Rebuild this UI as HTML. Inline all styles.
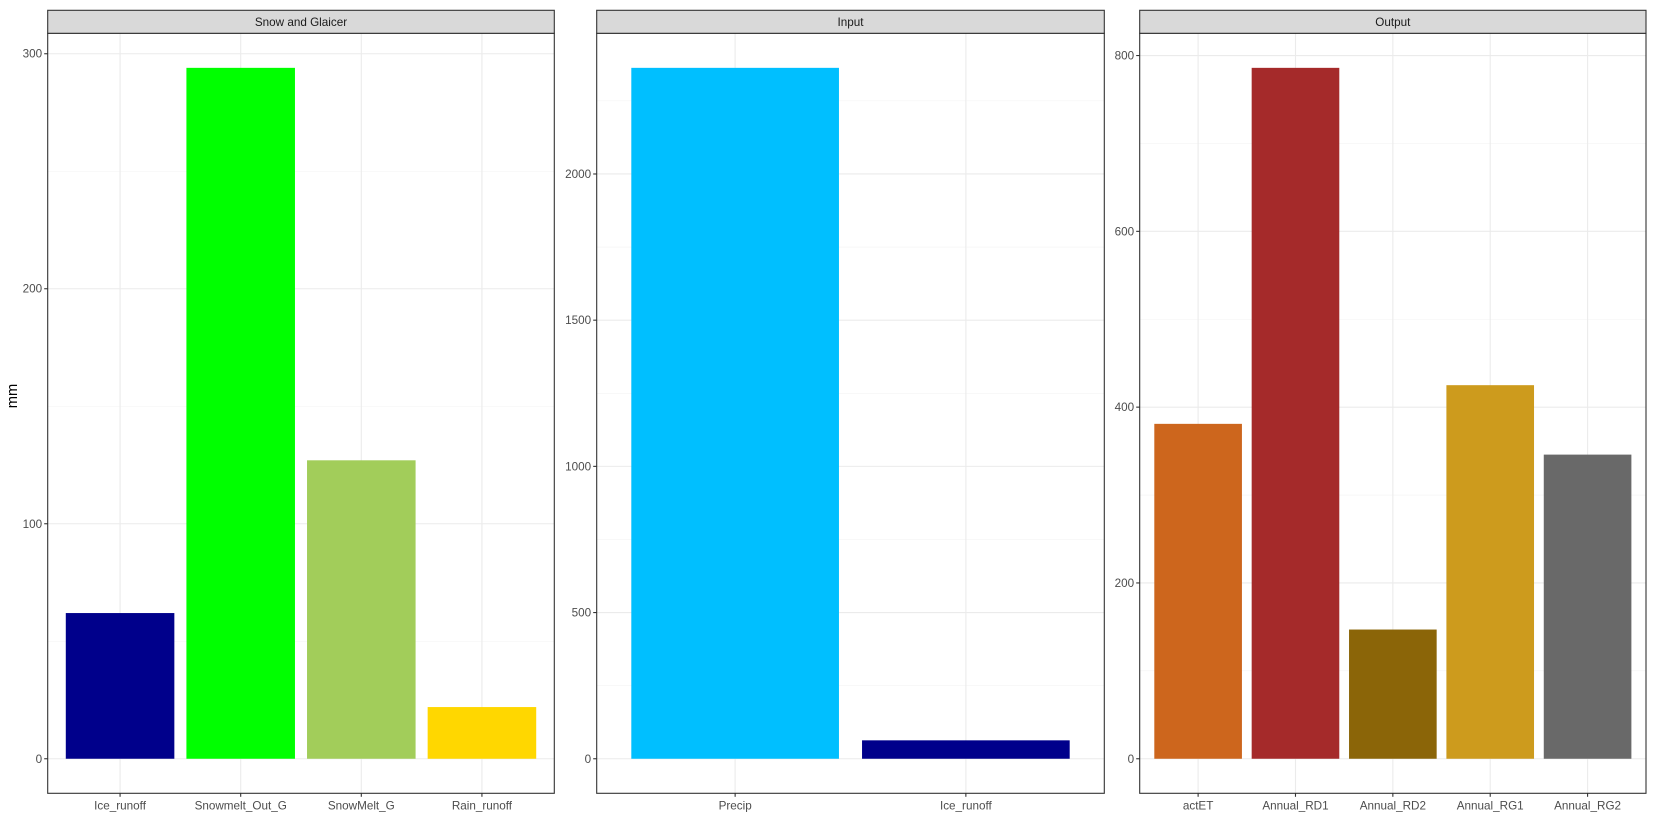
<!DOCTYPE html>
<html><head><meta charset="utf-8">
<style>
html,body{margin:0;padding:0;background:#fff;}
svg{display:block;font-family:"Liberation Sans",Arial,sans-serif;}
</style></head>
<body>
<svg id="chart" width="1653" height="827">
<text x="17" y="396" transform="rotate(-90 17 396)" text-anchor="middle" font-size="14.7" fill="#000">mm</text>
</svg>
<script>
const snowCats = ["Ice_runoff","Snowmelt_Out_G","SnowMelt_G","Rain_runoff"];
const snowVals = [62, 294, 127, 22];
const snowColors = ["#00008B","#00FF00","#A2CD5A","#FFD700"];
const snowTicks = [0,100,200,300];

const inputCats = ["Precip","Ice_runoff"];
const inputVals = [2363, 63];
const inputColors = ["#00BFFF","#00008B"];
const inputTicks = [0,500,1000,1500,2000];

const outCats = ["actET","Annual_RD1","Annual_RD2","Annual_RG1","Annual_RG2"];
const outVals = [381, 786, 147, 425, 346];
const outColors = ["#CD661D","#A52A2A","#8B6508","#CD9B1D","#696969"];
const outTicks = [0,200,400,600,800];

const NS="http://www.w3.org/2000/svg";
const svgEl=document.getElementById('chart');
function mk(tag,attrs,parent){const e=document.createElementNS(NS,tag);for(const k in attrs)e.setAttribute(k,attrs[k]);(parent||svgEl).appendChild(e);return e;}

const plotTop=33.3, plotBottom=793.3, stripTop=10.3;
function panel(key,title,x0,x1,cats,vals,colors,ticks){
  const g=mk('g',{});
  
  
  const maxV=Math.max(...vals);
  const lo=-0.05*maxV, hi=1.05*maxV;
  const y=v=>plotBottom-(v-lo)/(hi-lo)*(plotBottom-plotTop);
  const n=cats.length, unit=(x1-x0)/(n+0.2);
  const x=i=>x0+unit*(0.6+i);
  const step=ticks[1]-ticks[0];
  for(let i=-1;i<ticks.length;i++){
    const mv=ticks[0]+step*(i+0.5);
    const yy=y(mv);
    if(yy>plotTop&&yy<plotBottom){
      const l=mk('line',{x1:x0,x2:x1,y1:yy,y2:yy,stroke:'#f3f3f3','stroke-width':0.6},g);
      
      
    }
  }
  ticks.forEach(t=>{
    const l=mk('line',{x1:x0,x2:x1,y1:y(t),y2:y(t),stroke:'#ebebeb','stroke-width':1.1},g);
    
    
    mk('line',{x1:x0-3.5,x2:x0,y1:y(t),y2:y(t),stroke:'#333','stroke-width':1.1},g);
    const tx=mk('text',{x:x0-5.5,y:y(t)+4,'text-anchor':'end','font-size':11.7,fill:'#4d4d4d'},g);
    tx.textContent=t;
    
    
  });
  cats.forEach((c,i)=>{
    mk('line',{x1:x(i),x2:x(i),y1:plotTop,y2:plotBottom,stroke:'#ebebeb','stroke-width':1.1},g);
  });
  cats.forEach((c,i)=>{
    const w=unit*0.9;
    const r=mk('rect',{x:x(i)-w/2,y:y(vals[i]),width:w,height:y(0)-y(vals[i]),fill:colors[i]},g);
    
    
    mk('line',{x1:x(i),x2:x(i),y1:plotBottom,y2:plotBottom+3.5,stroke:'#333','stroke-width':1.1},g);
    const tx=mk('text',{x:x(i),y:plotBottom+16,'text-anchor':'middle','font-size':11.7,fill:'#4d4d4d'},g);
    tx.textContent=c;
    
    
  });
  const b=mk('rect',{x:x0,y:plotTop,width:x1-x0,height:plotBottom-plotTop,fill:'none',stroke:'#333','stroke-width':1.1},g);
  
  
  const s=mk('rect',{x:x0,y:stripTop,width:x1-x0,height:plotTop-stripTop,fill:'#d9d9d9',stroke:'#333','stroke-width':1.1},g);
  
  
  const st=mk('text',{x:(x0+x1)/2,y:stripTop+15.5,'text-anchor':'middle','font-size':11.7,fill:'#1a1a1a'},g);
  st.textContent=title;
  
  
}
panel('snow','Snow and Glaicer',47.7,554.3,snowCats,snowVals,snowColors,snowTicks);
panel('input','Input',596.7,1104.3,inputCats,inputVals,inputColors,inputTicks);
panel('output','Output',1139.7,1646,outCats,outVals,outColors,outTicks);
</script>
</body></html>
